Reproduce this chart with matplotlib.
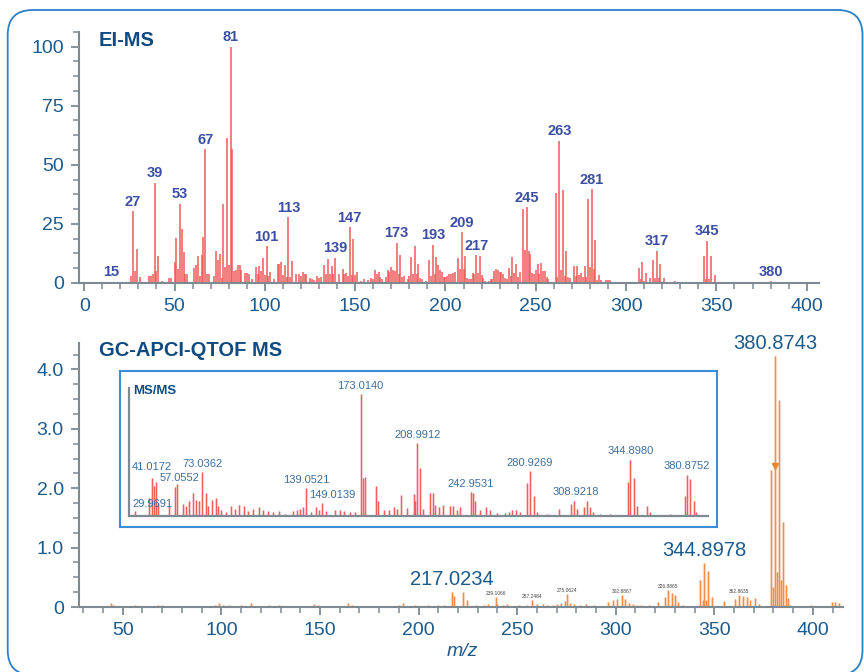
import matplotlib
matplotlib.use('Agg')
import matplotlib.pyplot as plt
from matplotlib.patches import FancyBboxPatch
from matplotlib.ticker import MultipleLocator, FixedLocator

plt.rcParams['font.family'] = ['Liberation Sans', 'DejaVu Sans']

# ---------------- DATA ----------------
# EI-MS (relative abundance, %)
ei_mz = [14, 15, 26, 27, 28, 29, 31, 36, 37, 38, 39, 40, 41, 43, 47, 48, 50, 51, 52, 53, 54, 55, 56, 57,
         61, 62, 63, 64, 65, 66, 67, 68, 69, 72, 73, 74, 75, 76, 77, 78, 79, 80, 81, 82, 83, 84, 85, 86, 87,
         89, 90, 91, 93, 95, 96, 97, 98, 99, 100, 101, 102, 103, 105, 107, 108, 109, 110, 111, 112, 113, 114,
         115, 117, 119, 120, 121, 122, 123, 125, 126, 127, 129, 130, 131, 133, 134, 135, 136, 137, 138, 139,
         141, 143, 144, 145, 146, 147, 148, 149, 150, 151, 153, 155, 157, 159, 160, 161, 162, 163, 164, 165,
         167, 168, 169, 170, 171, 172, 173, 174, 175, 176, 177, 179, 180, 181, 182, 183, 184, 185, 186, 187,
         189, 191, 192, 193, 194, 195, 196, 197, 198, 199, 200, 201, 202, 203, 204, 205, 207, 208, 209, 210,
         211, 212, 213, 214, 215, 216, 217, 218, 219, 220, 221, 222, 224, 225, 226, 227, 228, 229, 230, 231,
         232, 233, 234, 235, 236, 237, 238, 239, 240, 241, 243, 244, 245, 246, 247, 248, 249, 250, 251, 252,
         253, 254, 255, 256, 257, 261, 262, 263, 264, 265, 266, 267, 268, 269, 271, 272, 273, 274, 275, 276,
         277, 278, 279, 280, 281, 282, 283, 284, 285, 286, 289, 290, 291, 293, 301, 303, 307, 308, 309, 310,
         311, 313, 315, 316, 317, 318, 319, 321, 327, 329, 343, 344, 345, 346, 347, 349, 380, 382]
ei_int = [0.3, 0.5, 3, 30.4, 5, 14.4, 2.5, 3, 3, 4, 42.4, 5, 11.3, 1, 2, 2, 9, 19, 6, 33.6, 23, 13, 4, 4,
          6.5, 7.5, 11.3, 3, 12, 19.5, 56.6, 4, 4, 3, 13.5, 9.6, 12.4, 2, 33.3, 6.8, 61.2, 7.5, 100, 56.5, 5, 5.4, 7.8, 7.8, 5.6,
          4.2, 4.2, 3.7, 1.5, 6.8, 4, 7.3, 5, 10.6, 3.5, 15.5, 2.8, 4.7, 1.5, 8.2, 8.2, 8.9, 3.2, 7.5, 2.5, 27.8, 2.5,
          9.3, 3.7, 3.7, 3, 4.8, 4, 3.7, 2.3, 1.8, 1.4, 2.8, 2, 2.5, 7.6, 4, 10.3, 4, 7.3, 4, 10.7,
          3.7, 6, 3.7, 4.2, 2.8, 23.7, 3.2, 18.8, 3.2, 4.7, 1, 1.5, 1.4, 2.3, 1.5, 5.6, 4, 4.7, 2.5, 1.5,
          2.5, 5.6, 4.5, 6.8, 5.4, 5, 17.1, 4, 11.7, 2.5, 3, 1.8, 3, 11, 4, 15.5, 4, 8.2, 2, 1.5,
          1, 9.6, 3, 16.2, 3.7, 11, 7.5, 5.4, 4.7, 2.5, 2.5, 3, 4, 4, 4.2, 4.8, 10.7, 5.8, 21.5, 5.8,
          11.4, 2, 1.5, 1.8, 4.4, 3.6, 11.7, 4.4, 11.4, 3.4, 2, 1, 1, 1.5, 1.6, 5, 5.8, 5.4, 4.8, 4.5,
          3.6, 2.2, 1.5, 6.5, 3, 11, 4.4, 8.2, 2.5, 4.8, 31.1, 13.8, 32.1, 13.5, 12.1, 4.4, 3.6, 5.4, 8.2, 3.6,
          8.6, 5, 5, 2.5, 1.5, 38.1, 2.5, 60.2, 5.4, 39.5, 2.8, 13.6, 2.5, 2.2, 7, 2.8, 7, 3.2, 4.2, 2.5,
          7.2, 2.5, 35.7, 6.8, 39.7, 6, 18.4, 1.4, 3.5, 1.2, 1.2, 1.4, 1.4, 0.5, 0.4, 0.4, 6.5, 1.5, 8.9, 1,
          4.2, 2.2, 9.9, 2, 13.6, 2, 8.2, 2.2, 0.7, 0.5, 11.3, 1.8, 17.8, 1.8, 11.3, 3.2, 0.7, 0.4]
ei_labels = [15, 27, 39, 53, 67, 81, 101, 113, 139, 147, 173, 193, 209, 217, 245, 263, 281, 317, 345, 380]

# GC-APCI-QTOF MS (intensity)
apci_mz = [44, 45, 56, 58, 65, 68, 70, 78, 85, 92, 97, 99, 101, 104, 110, 115, 118, 124, 129, 135, 141,
           147, 149, 156, 164, 166, 172, 177, 185, 190, 192, 198, 205, 210, 213,
           216.8, 218, 222.7, 224.5, 229, 233, 235, 239.1, 240, 243, 245, 251, 255, 257.4, 260, 263, 265,
           268, 270, 272, 274.3, 275.1, 277, 279, 282, 285, 289, 293, 296.2, 298.8, 300.8, 303, 304.7,
           306.9, 309, 311, 313, 316.7, 321.3, 325, 326.7, 328.4, 330.1, 331.5, 334,
           342.7, 344.2, 344.85, 345.9, 347, 348.9, 354.9, 360.5, 362.7, 364.4, 366.4, 368.1, 370.6, 372.8,
           378.9, 379.6, 380.87, 381.7, 382.87, 383.8, 384.87, 386.5, 387.3, 388.5, 395, 399, 409.5, 411.3, 413.4]
apci_int = [0.07, 0.03, 0.03, 0.02, 0.02, 0.04, 0.03, 0.02, 0.02, 0.02, 0.04, 0.06, 0.04, 0.04, 0.03, 0.06,
            0.02, 0.03, 0.04, 0.02, 0.02, 0.05, 0.04, 0.02, 0.07, 0.04, 0.02, 0.02, 0.02, 0.03, 0.07, 0.03,
            0.03, 0.04, 0.03,
            0.25, 0.18, 0.25, 0.11, 0.04, 0.03, 0.05, 0.17, 0.05, 0.04, 0.05, 0.03, 0.03, 0.12, 0.05, 0.05, 0.04,
            0.03, 0.05, 0.06, 0.10, 0.22, 0.06, 0.05, 0.04, 0.05, 0.03, 0.02, 0.08, 0.11, 0.14, 0.20, 0.13,
            0.07, 0.05, 0.04, 0.03, 0.03, 0.08, 0.17, 0.28, 0.23, 0.20, 0.09, 0.03,
            0.45, 0.12, 0.74, 0.11, 0.61, 0.17, 0.10, 0.13, 0.20, 0.19, 0.17, 0.12, 0.15, 0.05,
            2.30, 0.33, 4.22, 0.59, 3.48, 0.45, 1.43, 0.37, 0.15, 0.04, 0.02, 0.03, 0.09, 0.08, 0.07]
apci_big_labels = [217.0234, 344.8978, 380.8743]
apci_big_label_peaks = [216.8, 344.85, 380.87]
apci_small_labels = ['239.1066', '257.2484', '275.0624', '302.8867', '326.8865', '362.8635']
apci_small_label_peaks = [239.1, 257.4, 275.1, 303, 326.7, 362.7]
apci_small_label_heights = [0.17, 0.12, 0.22, 0.20, 0.28, 0.20]
precursor_mz = 380.87
precursor_level = 2.38

# MS/MS inset (relative, %)
ms2_mz = [28.7, 37.5, 39.4, 40.9, 42.2, 43.2, 50.3, 53.9, 55.6, 59.3, 61, 63.1, 65.7, 67.8, 69.3, 71.7,
          73.8, 75.3, 77.8, 80.2, 81.9, 83.8, 87, 90.2, 92.4, 95.1, 98.1, 100.9, 104.1, 107.9, 110.5, 113.7,
          116.9, 120.7, 124.4, 129.7, 132.3, 134.4, 136.1, 138.2, 141.4, 144.6, 146.3, 148.3, 151, 156.4,
          159.6, 162.1, 166, 169.2, 173.0, 174.3, 175.8, 182.6, 183.7, 187.5, 190.7, 193.9, 196, 198.8,
          202.2, 206.7, 207.8, 209.0, 211, 212.7, 216.9, 218.8, 220.5, 222.7, 225.2, 229.7, 231.8, 234.4,
          236.5, 243.3, 244.6, 246.1, 248.8, 253.1, 255.7, 259.9, 265.3, 267.4, 269.5, 272.3, 274.9,
          279.1, 281.2, 283.4, 285.5, 291.9, 299.4, 307.3, 309.4, 311.1, 315.4, 317.5, 319.2, 321.4, 326,
          332.4, 343.7, 345.2, 347.3, 349.5, 355.9, 357.6, 370.8, 379.8, 381.4, 383.6, 385.7, 387.4]
ms2_int = [4, 14.5, 31, 25, 28, 10, 8, 24, 26, 10, 8, 12, 19, 13, 12, 36,
           19, 8, 13, 14.5, 8, 5, 3, 8, 6, 9, 8, 4, 6, 7, 5, 4,
           3, 4, 2, 4, 5, 6, 7, 23, 3, 7, 5, 11, 4, 5,
           5, 4, 3, 3, 100, 31, 32, 25, 12, 5, 5, 7, 6, 17,
           6.5, 18, 12, 60, 39, 6, 18.5, 18.5, 9, 7, 9, 8, 8, 5,
           7, 20, 19, 12.5, 5, 7.5, 5, 2.5, 2.5, 3.5, 5, 5, 3.5,
           27, 37, 16, 3.5, 2, 6, 10, 12.5, 6, 7.5, 12.5, 7.5, 3.5, 1.5,
           1.5, 28, 46, 31, 8, 8, 3.5, 1.5, 16, 34, 30, 12, 3.5]
ms2_labels = ['29.9691', '41.0172', '57.0552', '73.0362', '139.0521', '149.0139', '173.0140',
              '208.9912', '242.9531', '280.9269', '308.9218', '344.8980', '380.8752']
ms2_label_x = [39.7, 39.1, 57.0, 71.9, 138.3, 154.5, 172.6, 209.1, 243.0, 281.1, 310.2, 345.2, 381.1]
ms2_label_y = [9.8, 40.4, 30.9, 42.6, 29.5, 17.0, 106.6, 66.4, 26.0, 43.2, 19.4, 53.3, 41.2]

ei_xticks = [0, 50, 100, 150, 200, 250, 300, 350, 400]
ei_yticks = [0, 25, 50, 75, 100]
apci_xticks = [50, 100, 150, 200, 250, 300, 350, 400]
apci_yticks = [0, 1, 2, 3, 4]
apci_yticklabels = ['0', '1.0', '2.0', '3.0', '4.0']

# ---------------- STYLE ----------------
W, H = 864, 672
GREY = '#7d8a92'
TXT = '#1d5a8c'
TITLE = '#0f4a80'
RED = '#f05252'
ORANGE = '#ef8a45'
LBL = '#3b4ea3'

fig = plt.figure(figsize=(W / 100, H / 100), dpi=100)


def rect(l, t, r, b):
    return [l / W, 1 - b / H, (r - l) / W, (b - t) / H]


def style_axes(ax):
    for s in ['top', 'right']:
        ax.spines[s].set_visible(False)
    for s in ['left', 'bottom']:
        ax.spines[s].set_color(GREY)
        ax.spines[s].set_linewidth(1.5)
    ax.tick_params(axis='both', which='both', color=GREY, labelcolor=TXT, labelsize=14)
    ax.tick_params(axis='y', which='major', length=6, width=1.3, pad=5)
    ax.tick_params(axis='y', which='minor', length=4.5, width=1.1)
    ax.tick_params(axis='x', which='major', length=5.5, width=1.3, pad=5)
    ax.tick_params(axis='x', which='minor', length=4, width=1.1)
    ax.set_facecolor('none')


# ---- top: EI-MS
ax1 = fig.add_axes(rect(79, 31.7, 819, 283))
style_axes(ax1)
ax1.vlines(ei_mz, 0, ei_int, color=RED, lw=1.1, alpha=0.95)
ax1.set_xlim(-2.9, 406.8)
ax1.set_ylim(0, 106.3)
ax1.xaxis.set_major_locator(FixedLocator(ei_xticks))
ax1.xaxis.set_minor_locator(MultipleLocator(10))
ax1.yaxis.set_major_locator(FixedLocator(ei_yticks))
ax1.yaxis.set_minor_locator(MultipleLocator(6.25))
ei_lookup = dict(zip(ei_mz, ei_int))
for m in ei_labels:
    ax1.annotate(str(m), (m, ei_lookup[m]), xytext=(0, 6.8), textcoords='offset points',
                 ha='center', va='center', fontsize=10.5, fontweight='bold', color=LBL)
fig.text(99 / W, 1 - 40 / H, 'EI-MS', fontsize=14.5, fontweight='bold', color=TITLE,
         ha='left', va='center')

# ---- bottom: GC-APCI-QTOF MS
ax2 = fig.add_axes(rect(79, 342.7, 843.3, 607))
style_axes(ax2)
ax2.vlines(apci_mz, 0, apci_int, color='#f8c49c', lw=2.4, alpha=0.4)
ax2.vlines(apci_mz, 0, apci_int, color=ORANGE, lw=1.0, alpha=0.95)
ax2.plot([precursor_mz], [precursor_level], marker='v', ms=5, color='#e8862e', ls='none')
ax2.set_xlim(27.8, 415.4)
ax2.set_ylim(0, 4.45)
ax2.xaxis.set_major_locator(FixedLocator(apci_xticks))
ax2.xaxis.set_minor_locator(MultipleLocator(10))
ax2.yaxis.set_major_locator(FixedLocator(apci_yticks))
ax2.set_yticklabels(apci_yticklabels)
ax2.yaxis.set_minor_locator(MultipleLocator(0.25))
apci_lookup = dict(zip(apci_mz, apci_int))
for lab, pk in zip(apci_big_labels, apci_big_label_peaks):
    ax2.annotate(f'{lab:.4f}', (pk, apci_lookup[pk]), xytext=(0, 9), textcoords='offset points',
                 ha='center', va='center', fontsize=14.5, color=TXT)
for lab, pk, h in zip(apci_small_labels, apci_small_label_peaks, apci_small_label_heights):
    ax2.annotate(lab, (pk, h), xytext=(0, 2.5), textcoords='offset points',
                 ha='center', va='center', fontsize=3.5, color='#444444')
fig.text(99 / W, 1 - 350 / H, 'GC-APCI-QTOF MS', fontsize=14.5, fontweight='bold', color=TITLE,
         ha='left', va='center')
fig.text(462 / W, 1 - 651.7 / H, 'm/z', fontsize=14, style='italic', color=TXT, ha='center', va='center')

# ---- inset MS/MS
frame = fig.add_axes(rect(120, 371, 717.3, 527.3))
frame.set_xticks([])
frame.set_yticks([])
frame.set_facecolor('white')
for s in frame.spines.values():
    s.set_color('#3a8dd6')
    s.set_linewidth(1.5)

ax3 = fig.add_axes(rect(129.3, 388.3, 708.3, 516))
ax3.set_facecolor('none')
for s in ['top', 'right']:
    ax3.spines[s].set_visible(False)
for s in ['left', 'bottom']:
    ax3.spines[s].set_color(GREY)
    ax3.spines[s].set_linewidth(1.6)
ax3.set_xticks([])
ax3.set_yticks([])
ax3.vlines(ms2_mz, 0, ms2_int, color='#f6a3a3', lw=2.0, alpha=0.5)
ax3.vlines(ms2_mz, 0, ms2_int, color=RED, lw=0.8, alpha=0.9)
ax3.set_xlim(25, 395)
ax3.set_ylim(0, 104.7)
for lab, x, y in zip(ms2_labels, ms2_label_x, ms2_label_y):
    ax3.text(x, y, lab, fontsize=8, color='#3b6fa0', ha='center', va='center', clip_on=False)
fig.text(133.3 / W, 1 - 390.7 / H, 'MS/MS', fontsize=9.5, fontweight='bold', color=TITLE,
         ha='left', va='center')

# ---- rounded outer border
border = FancyBboxPatch((0.077, -0.03), 8.548, 6.65,
                        boxstyle='round,pad=0,rounding_size=0.25',
                        transform=fig.dpi_scale_trans, fill=False,
                        ec='#2b80c8', lw=1.3, clip_on=False)
fig.add_artist(border)

fig.savefig('out.png', dpi=100)
